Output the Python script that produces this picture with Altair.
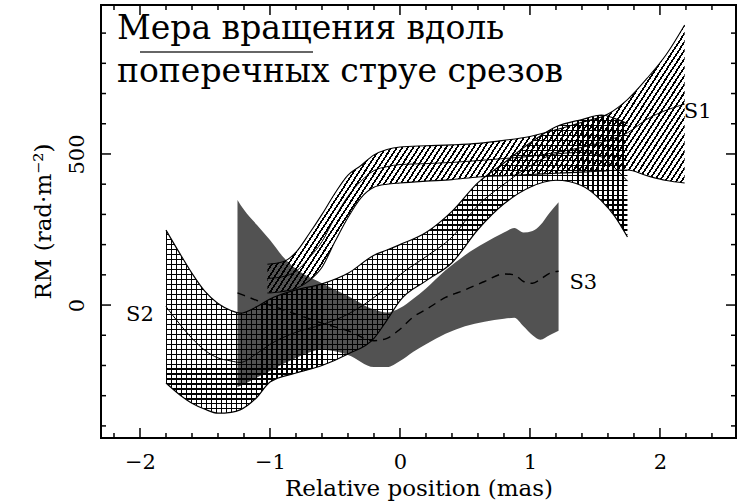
import math
import altair as alt
import pandas as pd

# ---------------- data ----------------
S1_x = [-1.02, -0.9, -0.8, -0.7, -0.6, -0.5, -0.4, -0.3, -0.2, -0.1, 0.0, 0.2, 0.4, 0.6, 0.8, 1.0, 1.2, 1.4, 1.6, 1.75, 1.9, 2.05, 2.19]
S1_hi = [135, 143, 175, 235, 300, 370, 430, 462, 497, 515, 523, 527, 530, 535, 545, 558, 580, 605, 632, 680, 750, 830, 927]
S1_lo = [40, 45, 55, 80, 125, 210, 290, 355, 390, 400, 404, 410, 415, 424, 428, 432, 436, 440, 445, 447, 428, 412, 404]
S1_mid = [88, 94, 112, 155, 210, 290, 360, 410, 445, 458, 465, 468, 472, 478, 485, 492, 505, 522, 545, 570, 615, 645, 665]

S2_x = [-1.8, -1.7, -1.6, -1.5, -1.4, -1.3, -1.23, -1.1, -1.0, -0.8, -0.6, -0.4, -0.2, -0.1, 0.0, 0.2, 0.4, 0.6, 0.8, 1.0, 1.2, 1.4, 1.55, 1.65, 1.75]
S2_hi = [248, 175, 105, 45, 5, -18, -27, -5, 20, 50, 70, 105, 165, 182, 200, 240, 310, 405, 470, 536, 590, 614, 629, 618, 600]
S2_lo = [-258, -295, -325, -345, -358, -355, -347, -305, -255, -225, -200, -162, -110, -50, 15, 80, 140, 250, 335, 390, 413, 395, 345, 295, 225]
S2_mid = [-5, -60, -110, -150, -175, -185, -190, -160, -130, -90, -65, -30, 25, 60, 100, 160, 225, 330, 400, 460, 500, 505, 490, 455, 410]

S3_x = [-1.25, -1.2, -1.1, -1.0, -0.9, -0.8, -0.6, -0.4, -0.2, -0.1, 0.0, 0.1, 0.2, 0.35, 0.5, 0.65, 0.8, 0.88, 0.95, 1.02, 1.08, 1.15, 1.22]
S3_hi = [348, 315, 265, 215, 160, 120, 72, 30, -15, -25, -10, 20, 55, 115, 165, 205, 240, 255, 240, 245, 265, 305, 340]
S3_lo = [-271, -262, -240, -218, -195, -175, -148, -165, -205, -205, -185, -155, -130, -95, -70, -55, -45, -42, -70, -100, -115, -100, -85]
S3_mid = [40, 32, 15, 0, -15, -30, -60, -85, -118, -110, -80, -40, -15, 25, 50, 78, 103, 100, 78, 72, 85, 105, 112]

LABEL_TEXT = ["S1", "S2", "S3"]
LABEL_X = [2.29, -2.0, 1.41]
LABEL_Y = [639, -33, 73]

X_MAJOR = [-2, -1, 0, 1, 2]
X_MINOR = [-2.2, -1.8, -1.6, -1.4, -1.2, -0.8, -0.6, -0.4, -0.2, 0.2, 0.4, 0.6, 0.8,
           1.2, 1.4, 1.6, 1.8, 2.2, 2.4]
Y_MAJOR = [0, 500]
Y_MINOR = [-400, -300, -200, -100, 100, 200, 300, 400, 600, 700, 800, 900]

X_DOMAIN = [-2.3, 2.585]
Y_DOMAIN = [-440, 993]

X_TITLE = "Relative position (mas)"
Y_TITLE = "RM (rad·m⁻²)"
OVERLAY_LINES = ["Мера вращения вдоль", "поперечных струе срезов"]

# ---------------- layout ----------------
W, H = 635, 433
PX_X = W / (X_DOMAIN[1] - X_DOMAIN[0])
PX_Y = H / (Y_DOMAIN[1] - Y_DOMAIN[0])
SERIF = "DejaVu Serif"

xs = alt.Scale(domain=X_DOMAIN, nice=False, zero=False)
ys = alt.Scale(domain=Y_DOMAIN, nice=False, zero=False)

xaxis = alt.Axis(values=X_MAJOR, format="d", title=X_TITLE, ticks=False, tickSize=0,
                 domain=False, grid=False, labelFont=SERIF, labelFontSize=21,
                 labelColor="black", labelPadding=13, titleFont=SERIF,
                 titleFontSize=23, titleFontWeight="normal", titleColor="black",
                 titleBaseline="alphabetic", titleY=57)
yaxis = alt.Axis(values=Y_MAJOR, format="d", title=Y_TITLE, ticks=False, tickSize=0,
                 domain=False, grid=False, labelFont=SERIF, labelFontSize=21,
                 labelColor="black", labelAngle=270, labelAlign="center",
                 labelBaseline="alphabetic", labelPadding=18, titleFont=SERIF,
                 titleFontSize=23, titleFontWeight="normal", titleColor="black",
                 titleAngle=270, titleAlign="center", titleBaseline="alphabetic",
                 titleX=-51, titleY=216)


def hatch(w_px, h_px, theta_deg, period, lw, color="black"):
    """Striped linear gradient (a hatch style) for a mark's bounding box."""
    th = math.radians(theta_deg)
    s, c = math.sin(th), math.cos(th)
    d = w_px * s + h_px * c
    k = d / (w_px ** 2 * s * s + h_px ** 2 * c * c)
    gx, gy = k * w_px * s, k * h_px * c
    n = max(1, int(round(d / period)))
    f = lw / period
    clear = "rgba(0,0,0,0)"
    stops = []
    for i in range(n):
        a = round(i / n, 6)
        b = round((i + f) / n, 6)
        stops += [{"offset": a, "color": clear}, {"offset": a, "color": color},
                  {"offset": b, "color": color}, {"offset": b, "color": clear}]
    return {"gradient": "linear", "x1": 0, "y1": 0, "x2": gx, "y2": gy, "stops": stops}


def band_df(xv, lo, hi, mid):
    return pd.DataFrame({"x": xv, "lo": lo, "hi": hi, "mid": mid})


def area(df, fill):
    return alt.Chart(df).mark_area(fill=fill, opacity=1, interpolate="monotone").encode(
        x=alt.X("x:Q", scale=xs, axis=xaxis),
        y=alt.Y("lo:Q", scale=ys, axis=yaxis),
        y2="hi:Q")


def line(df, field, width=1.2, dash=None):
    kw = dict(color="black", strokeWidth=width, interpolate="monotone")
    if dash:
        kw["strokeDash"] = dash
    return alt.Chart(df).mark_line(**kw).encode(
        x=alt.X("x:Q", scale=xs, axis=xaxis),
        y=alt.Y(field + ":Q", scale=ys, axis=yaxis))


d1 = band_df(S1_x, S1_lo, S1_hi, S1_mid)
d2 = band_df(S2_x, S2_lo, S2_hi, S2_mid)
d3 = band_df(S3_x, S3_lo, S3_hi, S3_mid)

w1 = (max(S1_x) - min(S1_x)) * PX_X
h1 = (max(S1_hi) - min(S1_lo)) * PX_Y
w2 = (max(S2_x) - min(S2_x)) * PX_X
h2 = (max(S2_hi) - min(S2_lo)) * PX_Y

layers = []
# S3: solid dark band with dashed centre
layers.append(area(d3, "#525252"))
layers.append(line(d3, "mid", 1.4, [8, 6]))
# S1: diagonal hatch
layers.append(area(d1, hatch(w1, h1, 57, 4.6, 1.7)))
layers += [line(d1, "hi", 1.1), line(d1, "lo", 1.1), line(d1, "mid", 1.0)]
# S2: cross hatch
layers.append(area(d2, hatch(w2, h2, 90, 5.0, 1.2)))
layers.append(area(d2, hatch(w2, h2, 0, 5.0, 1.2)))
layers += [line(d2, "hi", 1.2), line(d2, "lo", 1.2), line(d2, "mid", 1.0)]

# band labels
lab = pd.DataFrame({"x": LABEL_X, "y": LABEL_Y, "t": LABEL_TEXT})
layers.append(alt.Chart(lab).mark_text(font=SERIF, fontSize=21, color="black",
                                       align="center", baseline="middle").encode(
    x=alt.X("x:Q", scale=xs, axis=xaxis), y=alt.Y("y:Q", scale=ys, axis=yaxis), text="t:N"))


# inward ticks on all four sides
def xticks(vals, length, top):
    y0, y1 = (0, length) if top else (H, H - length)
    return alt.Chart(pd.DataFrame({"v": vals})).mark_rule(color="black", strokeWidth=1.5).encode(
        x=alt.X("v:Q", scale=xs, axis=xaxis), y=alt.value(y0), y2=alt.value(y1))


def yticks(vals, length, right):
    x0, x1 = (W, W - length) if right else (0, length)
    return alt.Chart(pd.DataFrame({"v": vals})).mark_rule(color="black", strokeWidth=1.5).encode(
        y=alt.Y("v:Q", scale=ys, axis=yaxis), x=alt.value(x0), x2=alt.value(x1))


for top in (False, True):
    layers.append(xticks(X_MAJOR, 10, top))
    layers.append(xticks(X_MINOR, 5, top))
for right in (False, True):
    layers.append(yticks(Y_MAJOR, 10, right))
    layers.append(yticks(Y_MINOR, 5, right))

# overlaid caption text
for i, (txt, yb) in enumerate(zip(OVERLAY_LINES, [33.5, 76.5])):
    layers.append(alt.Chart(pd.DataFrame({"t": [txt]})).mark_text(
        font=SERIF, fontSize=33, color="black", align="left", baseline="alphabetic").encode(
        x=alt.value(16), y=alt.value(yb), text="t:N"))
layers.append(alt.Chart(pd.DataFrame({"t": [0]})).mark_rule(color="#333333", strokeWidth=1.5).encode(
    x=alt.value(39), x2=alt.value(212), y=alt.value(47)))

chart = alt.layer(*layers).properties(
    width=W, height=H,
    padding={"left": 101, "top": 5, "right": 7, "bottom": 66},
    autosize=alt.AutoSizeParams(type="none"),
    background="white",
).configure_view(stroke="black", strokeWidth=2)

chart.save("out.html", embed_options={"renderer": "svg", "actions": False})
